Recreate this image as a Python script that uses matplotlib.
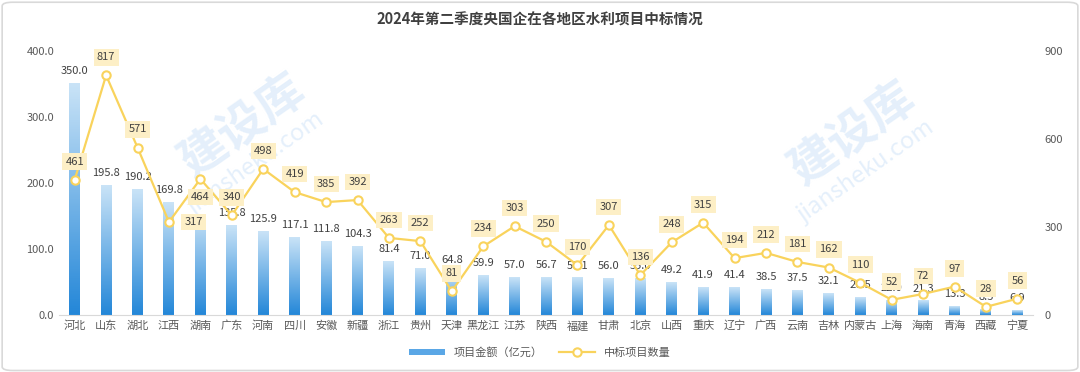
import numpy as np
import matplotlib.pyplot as plt
from matplotlib.patches import Patch, FancyBboxPatch
from matplotlib.lines import Line2D
from matplotlib.colors import LinearSegmentedColormap

plt.rcParams['font.family'] = ['Noto Sans CJK SC', 'DejaVu Sans']

regions = ['河北', '山东', '湖北', '江西', '湖南', '广东', '河南', '四川', '安徽', '新疆',
           '浙江', '贵州', '天津', '黑龙江', '江苏', '陕西', '福建', '甘肃', '北京', '山西',
           '重庆', '辽宁', '广西', '云南', '吉林', '内蒙古', '上海', '海南', '青海', '西藏', '宁夏']
amounts = [350.0, 195.8, 190.2, 169.8, 151.7, 135.8, 125.9, 117.1, 111.8, 104.3,
           81.4, 71.0, 64.8, 59.9, 57.0, 56.7, 56.1, 56.0, 55.0, 49.2,
           41.9, 41.4, 38.5, 37.5, 32.1, 26.5, 22.0, 21.3, 13.3, 8.5, 6.9]
counts = [461, 817, 571, 317, 464, 340, 498, 419, 385, 392,
          263, 252, 81, 234, 303, 250, 170, 307, 136, 248,
          315, 194, 212, 181, 162, 110, 52, 72, 97, 28, 56]

title = '2024年第二季度央国企在各地区水利项目中标情况'
txt_gray = '#595959'
line_col = '#f9d35c'
box_col = '#fdefc6'

fig = plt.figure(figsize=(10.8, 3.72), dpi=100)
fig.patch.set_facecolor('white')
fig.patches.append(FancyBboxPatch((0.002, 0.004), 0.996, 0.99, boxstyle='round,pad=0,rounding_size=0.01',
                                  transform=fig.transFigure, fc='none', ec='#d9d9d9', lw=1.2))

# 워터마크 (희미하게)
wm = '#cfe3f8'
for cx, cy in [(0.225, 0.66), (0.79, 0.64)]:
    fig.text(cx, cy, '建设库', fontsize=34, fontweight='bold', color=wm, alpha=0.55,
             rotation=35, ha='center', va='center', zorder=-5)
    fig.text(cx + 0.012, cy - 0.1, 'jiansheku.com', fontsize=17, color=wm, alpha=0.55,
             rotation=35, ha='center', va='center', zorder=-5)

ax = fig.add_axes([0.0546, 0.153, 0.902, 0.710])
ax.patch.set_alpha(0)
x = np.arange(len(regions))
bars = ax.bar(x, amounts, width=0.35, color='none', zorder=2)

# 막대 그라데이션
cmap = LinearSegmentedColormap.from_list('blu', ['#2487d8', '#c9e3f7'])
grad = np.linspace(0, 1, 100).reshape(-1, 1)
for b in bars:
    x0, w, h = b.get_x(), b.get_width(), b.get_height()
    ax.imshow(grad, cmap=cmap, extent=[x0, x0 + w, 0, h], origin='lower',
              aspect='auto', zorder=2)
ax.set_xlim(-0.5, len(regions) - 0.5)
ax.set_ylim(0, 400)

for xi, v in zip(x, amounts):
    ax.annotate(f'{v:.1f}', (xi, v), xytext=(0, 9), textcoords='offset points',
                ha='center', va='center', fontsize=8, color='#404040', zorder=3)

ax.set_yticks([0, 100, 200, 300, 400])
ax.set_yticklabels([f'{t:.1f}' for t in [0, 100, 200, 300, 400]])
ax.set_xticks(x)
ax.set_xticklabels(regions)
ax.tick_params(axis='both', length=0, labelsize=8, colors=txt_gray)
ax.tick_params(axis='x', pad=4)
for s in ['top', 'right', 'left']:
    ax.spines[s].set_visible(False)
ax.spines['bottom'].set_color('#d9d9d9')

ax2 = ax.twinx()
ax2.set_ylim(0, 900)
ax2.set_yticks([0, 300, 600, 900])
ax2.tick_params(axis='y', length=0, labelsize=8, colors=txt_gray, pad=8)
for s in ax2.spines.values():
    s.set_visible(False)
ax2.plot(x, counts, color=line_col, lw=1.6, marker='o', ms=6, mfc='white',
         mec=line_col, mew=1.5, zorder=4)

offsets = {3: (18, 0), 4: (0, -13)}
for i, (xi, c) in enumerate(zip(x, counts)):
    dx, dy = offsets.get(i, (0, 13))
    ax2.annotate(str(c), (xi, c), xytext=(dx, dy), textcoords='offset points',
                 ha='center', va='center', fontsize=8, color='#404040', zorder=5,
                 bbox=dict(boxstyle='square,pad=0.3', fc=box_col, ec='none'))

fig.text(0.5, 0.948, title, ha='center', va='center', fontsize=10.5,
         fontweight='bold', color='#404040')

handles = [Patch(facecolor='#5aa7e6', edgecolor='none'),
           Line2D([], [], color=line_col, lw=1.6, marker='o', ms=6, mfc='white', mec=line_col, mew=1.5)]
fig.legend(handles, ['项目金额（亿元）', '中标项目数量'], loc='center',
           bbox_to_anchor=(0.5, 0.052), ncol=2, frameon=False, fontsize=8,
           labelcolor=txt_gray, handlelength=3.2, handleheight=0.5, columnspacing=1.5)

fig.savefig('out.png', dpi=100)
